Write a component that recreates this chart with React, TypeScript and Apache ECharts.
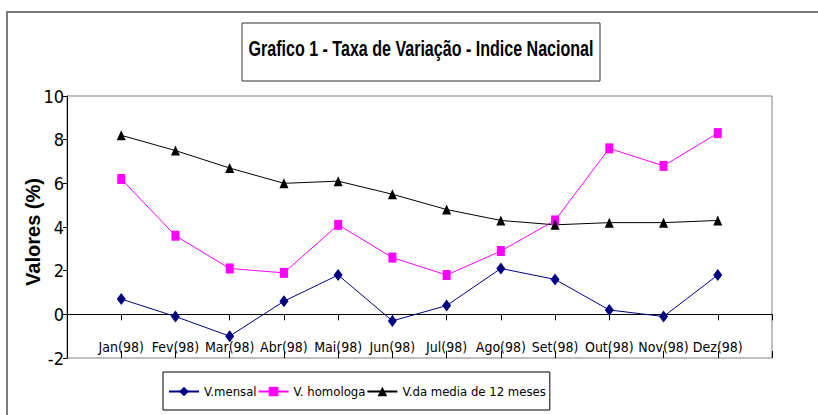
import React, { useEffect, useRef } from "react";
import * as echarts from "echarts";

const months = ["Jan(98)", "Fev(98)", "Mar(98)", "Abr(98)", "Mai(98)", "Jun(98)", "Jul(98)", "Ago(98)", "Set(98)", "Out(98)", "Nov(98)", "Dez(98)"];
const vMensal = [0.7, -0.1, -1.0, 0.6, 1.8, -0.3, 0.4, 2.1, 1.6, 0.2, -0.1, 1.8];
const vHomologa = [6.2, 3.6, 2.1, 1.9, 4.1, 2.6, 1.8, 2.9, 4.3, 7.6, 6.8, 8.3];
const vMedia12 = [8.2, 7.5, 6.7, 6.0, 6.1, 5.5, 4.8, 4.3, 4.1, 4.2, 4.2, 4.3];
const yTicks = { min: -2, max: 10, interval: 2 };
const seriesNames = ["V.mensal", "V. homologa", "V.da media de 12 meses"];
const titleText = "Grafico 1 - Taxa de Variação - Indice Nacional";
const yName = "Valores (%)";

const COND = "'DejaVu Sans Condensed', 'Liberation Sans', Arial, sans-serif";

export default function App() {
  const ref = useRef<HTMLDivElement>(null);
  useEffect(() => {
    if (!ref.current) return;
    const chart = echarts.init(ref.current, null, { renderer: "svg" });
    const cats = ["", ...months, ""];
    const pad = (a: number[]) => [null, ...a];
    const baseX = {
      type: "category",
      data: cats,
      boundaryGap: false,
    };
    chart.setOption({
      animation: false,
      backgroundColor: "#ffffff",
      grid: {
        left: 67,
        top: 96,
        right: 46,
        bottom: 57,
        show: true,
        borderColor: "#808080",
        borderWidth: 1,
        backgroundColor: "transparent",
      },
      graphic: [
        {
          type: "rect",
          shape: { x: 7, y: 12, width: 840, height: 440 },
          style: { fill: "none", stroke: "#7a7a7a", lineWidth: 2 },
          silent: true,
        },
        {
          type: "rect",
          shape: { x: 242, y: 23, width: 358, height: 58 },
          style: { fill: "none", stroke: "#333333", lineWidth: 1 },
          silent: true,
        },
        {
          type: "text",
          x: 421,
          y: 49,
          scaleX: 0.73,
          style: {
            text: titleText,
            font: "bold 22px 'Liberation Sans', Arial, sans-serif",
            fill: "#000000",
            textAlign: "center",
            textVerticalAlign: "middle",
            align: "center",
            verticalAlign: "middle",
          },
          silent: true,
        },
      ],
      legend: {
        left: 163,
        top: 372,
        orient: "horizontal",
        data: seriesNames,
        borderColor: "#000000",
        borderWidth: 1,
        padding: [13, 4, 12, 5],
        itemGap: 1,
        itemWidth: 30,
        itemHeight: 12,
        textStyle: { fontFamily: COND, fontSize: 13, color: "#000000" },
      },
      xAxis: [
        {
          ...baseX,
          position: "bottom",
          axisLine: { show: false, onZero: false },
          axisTick: { show: false },
          axisLabel: {
            inside: true,
            margin: 4,
            interval: 0,
            fontFamily: COND,
            fontSize: 14,
            color: "#000000",
          },
          splitLine: { show: false },
        },
        {
          ...baseX,
          position: "bottom",
          axisLine: { show: true, onZero: true, lineStyle: { color: "#000000", width: 1 } },
          axisTick: { show: true, interval: 0, length: 6, inside: false, lineStyle: { color: "#000000" } },
          axisLabel: { show: false },
          splitLine: { show: false },
        },
        {
          ...baseX,
          position: "bottom",
          axisLine: { show: false, onZero: true },
          axisTick: { show: true, interval: 0, length: 7, inside: true, lineStyle: { color: "#000000" } },
          axisLabel: { show: false },
          splitLine: { show: false },
        },
      ],
      yAxis: {
        type: "value",
        min: yTicks.min,
        max: yTicks.max,
        interval: yTicks.interval,
        name: yName,
        nameLocation: "middle",
        nameRotate: 90,
        nameGap: 24,
        nameMoveOverlap: false,
        nameTextStyle: {
          fontFamily: "'Liberation Sans', Arial, sans-serif",
          fontWeight: "bold",
          fontSize: 20,
          color: "#000000",
          padding: [0, 0, 0, -10],
        },
        axisLine: { show: true, lineStyle: { color: "#000000", width: 1 } },
        axisTick: { show: true, length: 4, lineStyle: { color: "#000000" } },
        axisLabel: { margin: 3, fontFamily: COND, fontSize: 18, color: "#000000" },
        splitLine: { show: false },
      },
      series: [
        {
          name: seriesNames[0],
          type: "line",
          data: pad(vMensal),
          symbol: "diamond",
          symbolSize: [9, 12],
          lineStyle: { color: "#000080", width: 1 },
          itemStyle: { color: "#000080" },
        },
        {
          name: seriesNames[1],
          type: "line",
          data: pad(vHomologa),
          symbol: "rect",
          symbolSize: [8, 10],
          lineStyle: { color: "#ff00ff", width: 1 },
          itemStyle: { color: "#ff00ff" },
        },
        {
          name: seriesNames[2],
          type: "line",
          data: pad(vMedia12),
          symbol: "triangle",
          symbolSize: [9, 10],
          lineStyle: { color: "#000000", width: 1 },
          itemStyle: { color: "#000000" },
        },
      ],
    });
    return () => chart.dispose();
  }, []);
  return (
    <div
      ref={ref}
      style={{ position: "absolute", left: 0, top: 0, width: 818, height: 415 }}
    />
  );
}
